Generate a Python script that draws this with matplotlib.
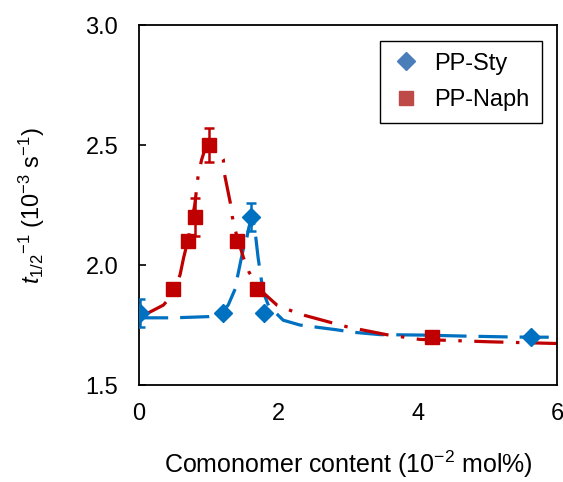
import matplotlib
matplotlib.use('Agg')
import matplotlib.pyplot as plt
from matplotlib.lines import Line2D

plt.rcParams['font.family'] = ['Liberation Sans', 'DejaVu Sans']
plt.rcParams['mathtext.fontset'] = 'custom'
plt.rcParams['mathtext.rm'] = 'Liberation Sans'
plt.rcParams['mathtext.it'] = 'Liberation Sans:italic'
plt.rcParams['lines.scale_dashes'] = False

# measured points
sty_x = [0.02, 1.20, 1.61, 1.80, 5.62]
sty_y = [1.80, 1.80, 2.20, 1.80, 1.70]
sty_err = [0.06, 0.0, 0.06, 0.0, 0.0]

naph_x = [0.49, 0.70, 0.81, 1.00, 1.40, 1.70, 4.20]
naph_y = [1.90, 2.10, 2.20, 2.50, 2.10, 1.90, 1.70]
naph_err = [0.0, 0.0, 0.08, 0.07, 0.0, 0.0, 0.0]

# fitted curves
sty_fit_x = [0.00, 0.50, 1.00, 1.15, 1.28, 1.38, 1.42, 1.47, 1.50, 1.545, 1.58, 1.62,
             1.66, 1.69, 1.71, 1.74, 1.78, 1.86, 2.07, 2.31, 2.84, 3.07, 3.46, 4.08,
             4.65, 5.37, 6.00]
sty_fit_y = [1.780, 1.780, 1.785, 1.790, 1.833, 1.90, 1.96, 2.03, 2.07, 2.11, 2.16, 2.20,
             2.16, 2.08, 2.03, 1.97, 1.89, 1.83, 1.77, 1.75, 1.73, 1.72, 1.71, 1.708,
             1.704, 1.700, 1.699]

naph_fit_x = [0.03, 0.35, 0.49, 0.59, 0.64, 0.70, 0.80, 0.85, 0.90, 0.95, 1.00, 1.05,
              1.12, 1.21, 1.23, 1.31, 1.34, 1.40, 1.50, 1.58, 1.74, 1.98, 2.18, 2.38,
              2.76, 2.98, 3.20, 3.55, 3.79, 4.03, 5.04, 6.00]
naph_fit_y = [1.785, 1.833, 1.88, 1.96, 2.03, 2.10, 2.25, 2.375, 2.44, 2.485, 2.50, 2.49,
              2.475, 2.44, 2.375, 2.26, 2.20, 2.125, 2.03, 1.97, 1.896, 1.833, 1.81, 1.79,
              1.76, 1.743, 1.73, 1.71, 1.70, 1.69, 1.68, 1.673]

blue = '#0070C0'
red = '#C00000'

fig = plt.figure(figsize=(5.63, 4.82), dpi=100)
ax = fig.add_axes([0.2469, 0.2012, 0.7424, 0.7469])

ax.plot(sty_fit_x, sty_fit_y, color=blue, lw=2.3, dashes=(21, 8.6), zorder=2)
ax.plot(naph_fit_x, naph_fit_y, color=red, lw=2.3, dashes=(21, 9, 2.5, 9), zorder=2)

ax.errorbar(sty_x, sty_y, yerr=sty_err, fmt='D', color=blue, ms=9, ecolor=blue,
            elinewidth=1.8, capsize=3.5, capthick=1.8, zorder=3)
ax.errorbar(naph_x, naph_y, yerr=naph_err, fmt='s', color=red, ms=9.5, ecolor=red,
            elinewidth=1.8, capsize=3.5, capthick=1.8, zorder=3)

ax.set_xlim(0, 6)
ax.set_ylim(1.5, 3.0)
ax.set_xticks([0, 2, 4, 6])
ax.set_yticks([1.5, 2.0, 2.5, 3.0])
ax.set_yticklabels(['1.5', '2.0', '2.5', '3.0'])
ax.tick_params(direction='in', length=5, width=1.2, labelsize=17, pad=15)
ax.tick_params(axis='x', length=0, pad=13)
for s in ax.spines.values():
    s.set_linewidth(1.3)

ax.set_xlabel(r'Comonomer content (10$^{-2}$ mol%)', fontsize=18, labelpad=17)
ax.set_ylabel(r'$t_{1/2}{}^{-1}$ (10$^{-3}$ s$^{-1}$)', fontsize=17, labelpad=28)

handles = [Line2D([], [], ls='none', marker='D', ms=9, color='#4A7EBB'),
           Line2D([], [], ls='none', marker='s', ms=9.5, color='#BE4B48')]
leg = ax.legend(handles, ['PP-Sty', 'PP-Naph'], loc='upper right',
                bbox_to_anchor=(0.963, 0.956), borderaxespad=0, fontsize=17,
                fancybox=False, edgecolor='black', framealpha=1,
                labelspacing=0.6, handletextpad=0.6, borderpad=0.5, handlelength=1.2)
leg.get_frame().set_linewidth(1.0)

fig.savefig('out.png', dpi=100)
